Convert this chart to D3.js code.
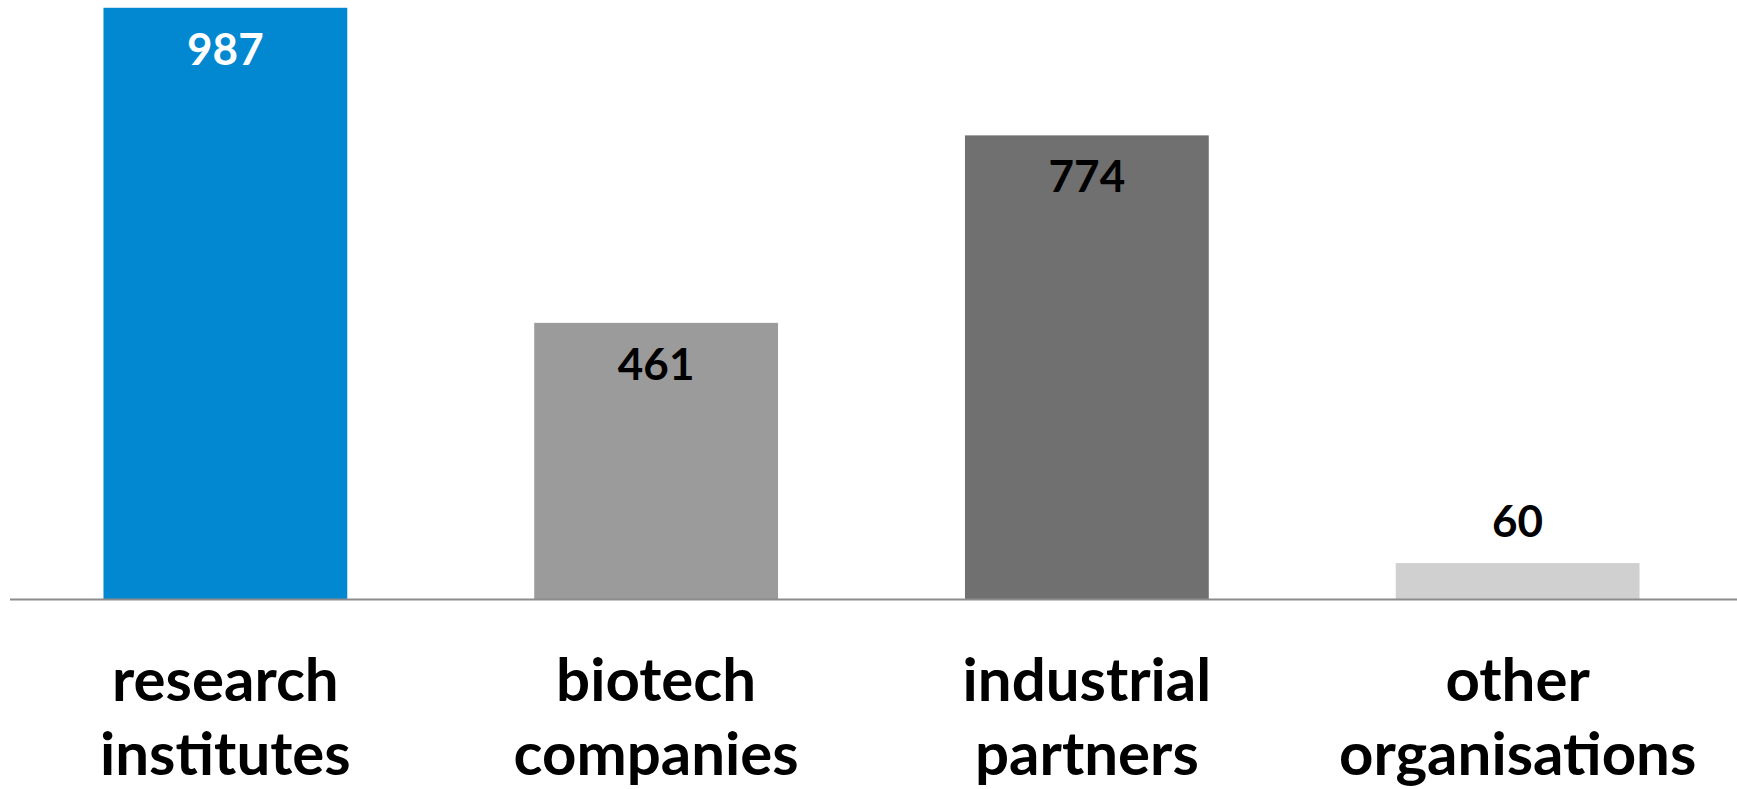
<!DOCTYPE html>
<html lang="en">
<head><meta charset="utf-8"/>
<style>
body { margin:0; background:#fff; }
.cat { font-family: Lato, "Liberation Sans", sans-serif; font-weight: bold; font-size: 60px; fill: #000; }
.val { font-family: Lato, "Liberation Sans", sans-serif; font-weight: bold; font-size: 44px; }
</style>
</head>
<body>
<svg id="chart" width="1737" height="789"></svg>
<script src="https://cdn.jsdelivr.net/npm/d3@7"></script>
<script>

var categories = ["research institutes", "biotech companies", "industrial partners", "other organisations"];
var values = [987, 461, 774, 60];
var colors = ["#0288d1", "#9b9b9b", "#707070", "#d0d0d0"];
var labelColors = ["#fff", "#000", "#000", "#000"];

var svg = d3.select("#chart"),
    baseY = 599;

var x = d3.scaleBand()
	.domain(categories)
	.range([10, 1733])
	.paddingInner(0.434)
	.paddingOuter(0.217);

var y = d3.scaleLinear().domain([0, 1000]).range([baseY, 0]);

var data = categories.map((c, i) => ({cat: c, value: values[i], color: colors[i], lc: labelColors[i]}));

svg.selectAll(".bar")
	.data(data)
	.enter().append("rect")
	.attr("class", "bar")
	.attr("x", d => x(d.cat))
	.attr("width", x.bandwidth())
	.attr("y", d => y(d.value))
	.attr("height", d => baseY - y(d.value))
	.style("fill", d => d.color);

// axis line
svg.append("line")
	.attr("x1", 10).attr("x2", 1737)
	.attr("y1", baseY + 0.5).attr("y2", baseY + 0.5)
	.style("stroke", "#8c8c8c").style("stroke-width", 2);

// value labels: inside the bar when tall enough, otherwise above
svg.selectAll(".val")
	.data(data)
	.enter().append("text")
	.attr("class", "val")
	.attr("text-anchor", "middle")
	.attr("x", d => x(d.cat) + x.bandwidth() / 2)
	.attr("y", d => (baseY - y(d.value)) > 80 ? y(d.value) + 57 : y(d.value) - 26)
	.style("fill", d => (baseY - y(d.value)) > 80 ? d.lc : "#000")
	.text(d => d.value);

// category labels, two lines
var cl = svg.selectAll(".cat")
	.data(data)
	.enter().append("text")
	.attr("class", "cat")
	.attr("text-anchor", "middle")
	.attr("x", d => x(d.cat) + x.bandwidth() / 2)
	.attr("y", 701);
cl.each(function(d){
	var words = d.cat.split(" ");
	var t = d3.select(this);
	words.forEach(function(w, i){
		t.append("tspan")
			.attr("x", x(d.cat) + x.bandwidth() / 2)
			.attr("dy", i == 0 ? 0 : 74)
			.text(w);
	});
});
</script>
</body>
</html>
